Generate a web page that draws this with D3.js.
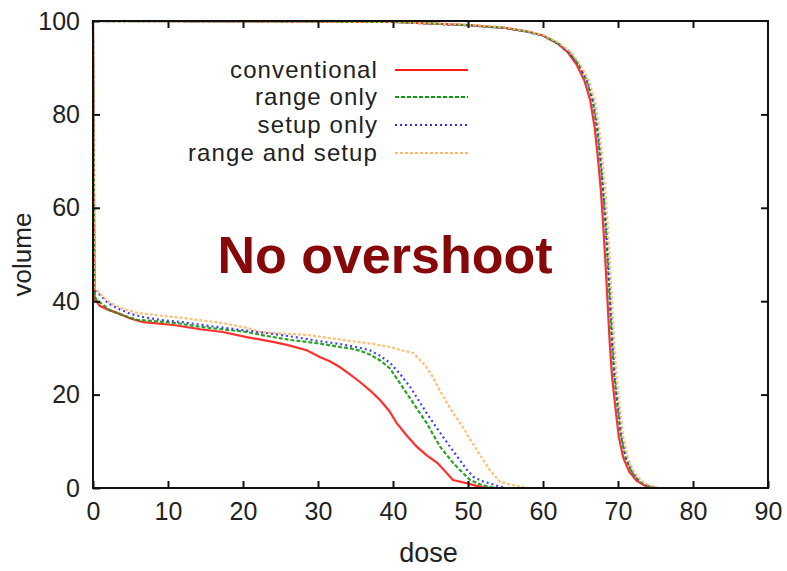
<!DOCTYPE html>
<html>
<head>
<meta charset="utf-8">
<script src="https://cdn.jsdelivr.net/npm/d3@7"></script>
<style>
  body { margin: 0; background: #fff; }
  svg text { font-family: "Liberation Sans", Arial, Helvetica, sans-serif; fill: #222; }
</style>
</head>
<body>
<div id="chart"></div>
<script>
// Data (dose, volume pairs)
const seriesNames = ["conventional", "range only", "setup only", "range and setup"];
const xTicks = [0, 10, 20, 30, 40, 50, 60, 70, 80, 90];
const yTicks = [0, 20, 40, 60, 80, 100];

// organ at risk curves (lower group)
const organConventional = [[0,100],[0.2,40.5],[0.9,39],[2,38.2],[3.2,37.5],[5,36.3],[6.7,35.5],[10.7,34.9],[14.3,34],[17.3,33.4],[20.5,32.3],[24,31.3],[26,30.6],[28.5,29.5],[30.3,28],[31.5,27.2],[32.9,25.9],[34.3,24.3],[35.6,22.7],[37,20.8],[38.3,18.8],[39.5,16.5],[40.5,13.9],[41.8,11.3],[43.2,8.8],[44.5,7],[45.9,5.4],[47,3.5],[48,1.7],[49.9,1],[51,0.5],[52,0.2],[53,0],[79,0]];
const organRange = [[0,100],[0.2,41],[0.5,40.3],[2.3,38],[4,37],[5.9,36],[8.5,35.7],[11.2,35.3],[14.3,34.5],[18.3,33.8],[20.5,33.4],[23,32.6],[26.3,31.7],[29.9,31],[32.9,30.2],[34.3,29.9],[35.6,29.4],[36.9,28.6],[38.3,27.3],[39.6,25.6],[40.9,22.5],[41.8,20.3],[42.7,18.2],[43.6,16],[44.5,13.9],[45.4,11.3],[46.3,8.8],[47.2,7],[48,5.4],[49.2,3.4],[50.3,1.7],[51.6,0.8],[53,0.2],[54,0],[79,0]];
const organSetup = [[0,100],[0.2,42.3],[0.7,41.7],[2,39.6],[3.2,38.5],[5,37.3],[6.7,36.6],[9,36],[12,35.5],[15,34.8],[18,34.2],[21,33.6],[24,33],[27,32.3],[30,31.5],[33,30.8],[35,30.2],[36.9,29.5],[38.3,28.3],[39.6,26.8],[41,24.3],[42.3,21.6],[43.4,18.8],[44.5,16],[45.6,13.4],[46.7,10.9],[47.8,8.4],[48.9,6],[49.8,4],[50.7,2.4],[51.8,1.5],[52.9,1],[54,0.4],[55,0],[79,0]];
const organRangeSetup = [[0,100],[0.2,43],[0.5,42.4],[1.3,41],[2.3,39.6],[4,38.4],[5.9,37.5],[9,36.9],[12,36.4],[15,35.8],[17.3,35.3],[20.5,34.3],[22.3,33.4],[25,33.1],[28.5,32.8],[32,32],[35.2,31.3],[37.5,30.8],[39.6,30.2],[40.9,29.6],[42.7,28.9],[43.6,27.4],[44.5,25.8],[45.3,23.8],[46.2,21],[47.2,18.2],[48.2,15.6],[49.3,13.1],[50.2,10.6],[51.2,8.1],[52,6],[52.9,3.9],[53.6,2.5],[54.3,1.3],[56,0.6],[58,0],[79,0]];

// target curves (upper group)
const targetConventional = [[0,100],[40,99.8],[50,99.1],[55,98.5],[58,97.7],[60,96.9],[62,95.1],[63.3,93.3],[64.5,90.6],[65.5,87.3],[66.3,83],[66.9,77],[67.3,71],[67.7,64],[68,57],[68.3,49],[68.6,40],[68.9,31],[69.2,24],[69.6,18],[70.1,11],[70.7,6.5],[71.5,3.5],[72.5,1.5],[73.6,0.5],[74.8,0],[79.5,0]];
const targetRange = [[0,100],[40,99.8],[50,99.1],[55,98.5],[58,97.7],[60,96.9],[62,95.2],[63.5,93.3],[64.8,90.6],[65.8,87.3],[66.6,83],[67.2,77],[67.6,71],[68,64],[68.3,57],[68.6,49],[68.9,40],[69.2,31],[69.5,24],[69.9,18],[70.4,11],[71,6.5],[71.8,3.5],[72.8,1.5],[73.9,0.5],[75,0],[79,0]];
const targetSetup = [[0,100],[40,99.8],[50,99.1],[55,98.5],[58,97.7],[60,96.9],[62,95.2],[63.5,93.3],[64.8,90.6],[65.9,87.3],[66.7,83],[67.3,77],[67.7,71],[68,64],[68.4,57],[68.7,49],[69,40],[69.3,31],[69.6,24],[70,18],[70.5,11],[71.1,6.5],[71.9,3.5],[72.9,1.5],[74,0.5],[75.2,0],[79,0]];
const targetRangeSetup = [[0,100],[40,99.8],[50,99.2],[55,98.6],[58,97.8],[60,97],[62,95.4],[63.7,93.4],[65,90.6],[66.1,87.3],[66.9,83],[67.5,77],[67.9,71],[68.3,64],[68.6,57],[68.9,49],[69.2,40],[69.5,31],[69.8,24],[70.2,18],[70.7,11],[71.3,6.5],[72.1,3.5],[73.1,1.5],[74.2,0.5],[75.4,0],[79,0]];

const colors = ["#ff1a1a", "#129a12", "#2b2bff", "#ffb866"];
const dashes = [null, "4,2", "2,3", "3,2"];

const W = 787, H = 571;
const margin = { top: 21, right: 19, bottom: 83, left: 93 };
const width = W - margin.left - margin.right;
const height = H - margin.top - margin.bottom;

const svg = d3.select("#chart").append("svg")
    .attr("width", W)
    .attr("height", H);

const g = svg.append("g")
    .attr("transform", `translate(${margin.left},${margin.top})`);

const x = d3.scaleLinear().domain([0, 90]).range([0, width]);
const y = d3.scaleLinear().domain([0, 100]).range([height, 0]);

const line = d3.line()
    .x(d => x(d[0]))
    .y(d => y(d[1]));

// curves
const groups = [
    [organConventional, targetConventional],
    [organRange, targetRange],
    [organSetup, targetSetup],
    [organRangeSetup, targetRangeSetup]
];
[0, 1, 2, 3].forEach(i => {
    groups[i].forEach(arr => {
        g.append("path")
            .attr("d", line(arr))
            .attr("fill", "none")
            .attr("stroke", colors[i])
            .attr("stroke-width", 2.2)
            .attr("stroke-opacity", 0.9)
            .attr("stroke-dasharray", dashes[i]);
    });
});

// axes with inward ticks
const tickLen = 7;
const bottomAxis = g.append("g")
    .attr("transform", `translate(0,${height})`)
    .call(d3.axisBottom(x).tickValues(xTicks).tickSizeInner(-tickLen).tickSizeOuter(0).tickPadding(14));
const leftAxis = g.append("g")
    .call(d3.axisLeft(y).tickValues(yTicks).tickSizeInner(-tickLen).tickSizeOuter(0).tickPadding(13));
const topAxis = g.append("g")
    .call(d3.axisTop(x).tickValues(xTicks.slice(1, -1)).tickSizeInner(-tickLen).tickSizeOuter(0).tickFormat(""));
const rightAxis = g.append("g")
    .attr("transform", `translate(${width},0)`)
    .call(d3.axisRight(y).tickValues(yTicks.slice(1, -1)).tickSizeInner(-tickLen).tickSizeOuter(0).tickFormat(""));

[bottomAxis, leftAxis, topAxis, rightAxis].forEach(a => {
    a.select(".domain").remove();
    a.selectAll(".tick line").attr("stroke", "#111").attr("stroke-width", 2);
    a.selectAll(".tick text")
        .style("font-size", "25px")
        .style("font-family", "'Liberation Sans', Arial, sans-serif")
        .attr("fill", "#222");
});

// frame
g.append("rect")
    .attr("width", width)
    .attr("height", height)
    .attr("fill", "none")
    .attr("stroke", "#111")
    .attr("stroke-width", 2);

// axis labels
svg.append("text")
    .attr("x", margin.left + x(45) - 2)
    .attr("y", 562)
    .attr("text-anchor", "middle")
    .style("font-size", "27px")
    .text("dose");

svg.append("text")
    .attr("transform", `translate(31,${margin.top + y(50)}) rotate(-90)`)
    .attr("text-anchor", "middle")
    .style("font-size", "26px")
    .text("volume");

// legend
const legendY = [70, 97, 125, 153];
seriesNames.forEach((name, i) => {
    svg.append("text")
        .attr("x", 378)
        .attr("y", legendY[i] + 8)
        .attr("text-anchor", "end")
        .style("font-size", "24px")
        .style("letter-spacing", "1.1px")
        .text(name);
    svg.append("line")
        .attr("x1", 395)
        .attr("x2", 468)
        .attr("y1", legendY[i])
        .attr("y2", legendY[i])
        .attr("stroke", colors[i])
        .attr("stroke-width", 2.2)
        .attr("stroke-dasharray", dashes[i]);
});

// annotation
svg.append("text")
    .attr("x", 385)
    .attr("y", 273)
    .attr("text-anchor", "middle")
    .style("font-size", "52px")
    .style("font-weight", "bold")
    .style("fill", "#860808")
    .text("No overshoot");
</script>
</body>
</html>
